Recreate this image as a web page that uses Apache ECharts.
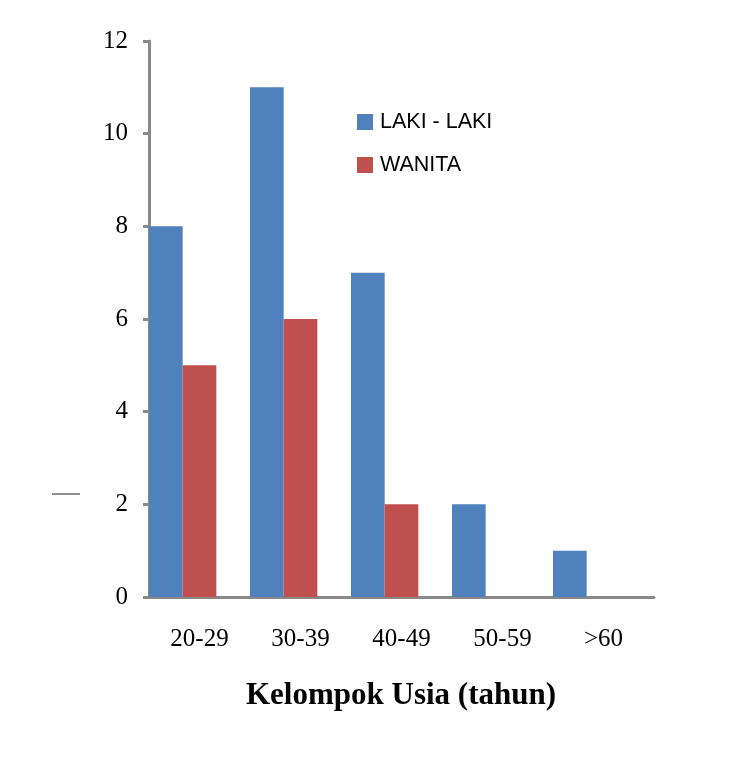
<!DOCTYPE html>
<html>
<head>
<meta charset="utf-8">
<script src="https://cdn.jsdelivr.net/npm/echarts@6/dist/echarts.min.js"></script>
<style>
  html, body { margin: 0; padding: 0; background: #fff; }
  #main { width: 752px; height: 767px; }
</style>
</head>
<body>
<div id="main"></div>
<script>
// kelompok usia
const categories = ['20-29', '30-39', '40-49', '50-59', '>60']
// laki-laki
const lakiLaki = [8, 11, 7, 2, 1]
// wanita
const wanita = [5, 6, 2, 0, 0]
const yTicks = [0, 2, 4, 6, 8, 10, 12]

const chart = echarts.init(document.getElementById('main'))
const axisGray = '#8a8a8a'

const option = {
    animation: false,
    title: {
        text: 'Kelompok Usia (tahun)',
        left: 396,
        top: 675,
        textAlign: 'center',
        textStyle: {
            fontFamily: 'Liberation Serif',
            fontWeight: 'bold',
            fontSize: 31,
            color: '#000'
        }
    },
    legend: {
        data: ['LAKI - LAKI', 'WANITA'],
        orient: 'vertical',
        left: 352,
        top: 106,
        itemWidth: 16,
        itemHeight: 16,
        itemGap: 21,
        icon: 'rect',
        textStyle: {
            fontFamily: 'Liberation Sans',
            fontSize: 21.5,
            color: '#000',
            padding: [0, 0, 0, 2]
        }
    },
    grid: {
        left: 149,
        right: 98,
        top: 41,
        bottom: 170
    },
    xAxis: {
        type: 'category',
        data: categories,
        axisLine: { lineStyle: { color: axisGray, width: 3 } },
        axisTick: { show: false },
        axisLabel: {
            margin: 30,
            fontFamily: 'Liberation Serif',
            fontSize: 25,
            color: '#000'
        }
    },
    yAxis: {
        type: 'value',
        min: yTicks[0],
        max: yTicks[yTicks.length - 1],
        interval: 2,
        splitLine: { show: false },
        axisLine: { show: true, lineStyle: { color: axisGray, width: 3 } },
        axisTick: { show: true, length: 6, lineStyle: { color: axisGray, width: 3 } },
        axisLabel: {
            margin: 21,
            fontFamily: 'Liberation Serif',
            fontSize: 25,
            color: '#000'
        }
    },
    graphic: [
        {
            type: 'line',
            shape: { x1: 52, y1: 494, x2: 80, y2: 494 },
            style: { stroke: '#222', lineWidth: 1 }
        }
    ],
    series: [
        {
            name: 'LAKI - LAKI',
            type: 'bar',
            data: lakiLaki,
            barGap: '0%',
            barCategoryGap: '0%',
            itemStyle: { color: '#4F81BD' }
        },
        {
            name: 'WANITA',
            type: 'bar',
            data: wanita,
            itemStyle: { color: '#C0504D' }
        },
        {
            // empty slot so the pair sits at the left of each category
            name: 'spacer',
            type: 'bar',
            data: [],
            itemStyle: { color: 'transparent' }
        }
    ]
}

chart.setOption(option)
</script>
</body>
</html>
